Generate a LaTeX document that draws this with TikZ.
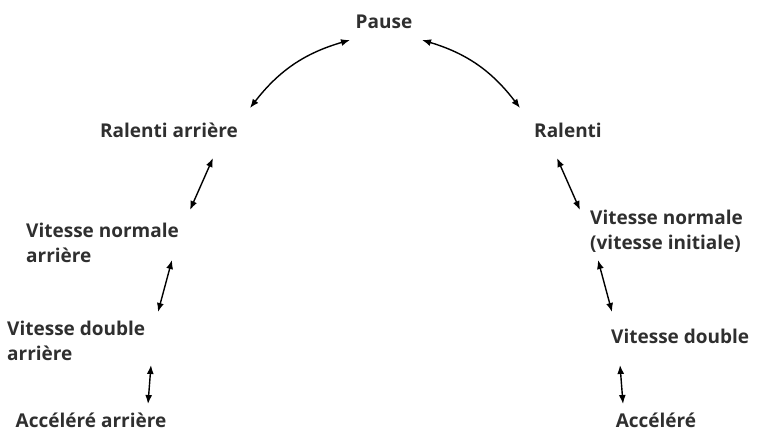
\documentclass[tikz,border=0pt]{standalone}
\usepackage{fontspec}
\setmainfont{Open Sans}
\usepackage{tikz}
\usetikzlibrary{arrows.meta}

\definecolor{labelgray}{HTML}{2F2F2F}

\begin{document}
\begin{tikzpicture}[
				x=1pt,
				y=-1pt,
				line cap=round,
				line join=round,
				label/.style={inner sep=0pt, text=labelgray, font=\bfseries\fontsize{19}{24.5}\selectfont},
				twoway/.style={{Latex[length=9pt,width=7pt]}-{Latex[length=9pt,width=7pt]}, line width=1.4pt, black}
				]
				\useasboundingbox (0,0) rectangle (759,434);
				
				% Top
				\node[label, anchor=base] (pause) at (384,28) {Pause};
				
				% Backward side
				\node[label, anchor=base] (ralAr) at (169,137) {Ralenti arrière};
				\node[label, anchor=north west, align=left] (normAr) at (26,223) {Vitesse normale\\arrière};
				\node[label, anchor=north west, align=left] (doubAr) at (7,321) {Vitesse double\\arrière};
				\node[label, anchor=base] (accAr) at (91,427) {Accéléré arrière};
				
				% Forward side
				\node[label, anchor=base] (ral) at (568,137) {Ralenti};
				\node[label, anchor=north west, align=left] (norm) at (590,210) {Vitesse normale\\(vitesse initiale)};
				\node[label, anchor=base west] (doub) at (611,343) {Vitesse double};
				\node[label, anchor=base] (acc) at (656,427) {Accéléré};
				
				% Arrows round Pause
				\draw[twoway] ([shift={(81,-29)}]ralAr.base) to[bend left=18] ([shift={(-34,12)}]pause.base);
				\draw[twoway] ([shift={(38,12)}]pause.base) to[bend left=18] ([shift={(-48,-29)}]ral.base);
				
				% Arrows down the backward side
				\draw[twoway] ([shift={(44,21)}]ralAr.base) -- ([shift={(164,-13)}]normAr.north west);
				\draw[twoway] ([shift={(146,37)}]normAr.north west) -- ([shift={(151,-9)}]doubAr.north west);
				\draw[twoway] ([shift={(144,44)}]doubAr.north west) -- ([shift={(57,-23)}]accAr.base);
				
				% Arrows down the forward side
				\draw[twoway] ([shift={(-11,21)}]ral.base) -- ([shift={(-10,0)}]norm.north west);
				\draw[twoway] ([shift={(8,50)}]norm.north west) -- ([shift={(1,-31)}]doub.base west);
				\draw[twoway] ([shift={(9,22)}]doub.base west) -- ([shift={(-33,-23)}]acc.base);
			\end{tikzpicture}
\end{document}
